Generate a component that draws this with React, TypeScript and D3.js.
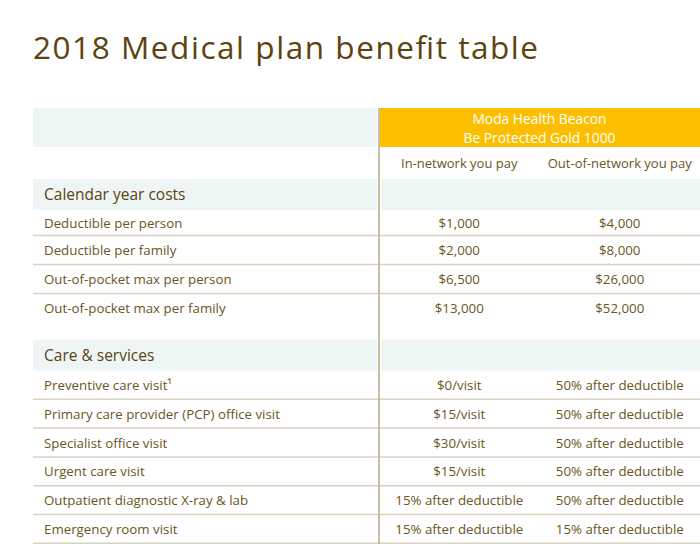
import React from "react";
import * as d3 from "d3";

const title = "2018 Medical plan benefit table";
const planName = ["Moda Health Beacon", "Be Protected Gold 1000"];
const columnHeaders = ["In-network you pay", "Out-of-network you pay"];

const section1Title = "Calendar year costs";
const section1Labels = [
  "Deductible per person",
  "Deductible per family",
  "Out-of-pocket max per person",
  "Out-of-pocket max per family",
];
const section1In = ["$1,000", "$2,000", "$6,500", "$13,000"];
const section1Out = ["$4,000", "$8,000", "$26,000", "$52,000"];

const section2Title = "Care & services";
const section2Labels = [
  "Preventive care visit\u00B9",
  "Primary care provider (PCP) office visit",
  "Specialist office visit",
  "Urgent care visit",
  "Outpatient diagnostic X-ray & lab",
  "Emergency room visit",
];
const section2In = ["$0/visit", "$15/visit", "$30/visit", "$15/visit", "15% after deductible", "15% after deductible"];
const section2Out = [
  "50% after deductible",
  "50% after deductible",
  "50% after deductible",
  "50% after deductible",
  "50% after deductible",
  "15% after deductible",
];

const W = 700;
const H = 544;
const FONT = "'Open Sans', Lato, sans-serif";
const BROWN = "#5c430f";
const TEXT = "#6b5524";
const BAND = "#edf6f5";
const YELLOW = "#fcbf00";
const LINE = "#dbd1bf";
const DIV = "#c9bda4";

const left = 33;
const divX = 379;
const right = 700;

export default function App() {
  const colX = d3.scaleBand<string>().domain(columnHeaders).range([divX, right]);
  const colCenter = (c: string) => (colX(c) ?? 0) + colX.bandwidth() / 2;
  const planCenter = (divX + right) / 2;

  const headTop = 108;
  const headH = 39;
  const subH = 32;
  const bandH = 31;
  const rowH = 28.8;

  const sec1BandTop = headTop + headH + subH;
  const sec1RowTop = sec1BandTop + bandH;
  const sec1Heights = [25.5, 29, 29, 46];
  const sec1Rows = section1Labels.map((l, i) => {
    const top = sec1RowTop + d3.sum(sec1Heights.slice(0, i));
    return { label: l, inV: section1In[i], outV: section1Out[i], top, h: sec1Heights[i], line: i < 3 };
  });
  const sec2BandTop = sec1RowTop + d3.sum(sec1Heights);
  const sec2RowTop = sec2BandTop + bandH;
  const y2 = d3.scaleLinear().domain([0, section2Labels.length]).range([sec2RowTop, sec2RowTop + rowH * section2Labels.length]);
  const sec2Rows = section2Labels.map((l, i) => ({
    label: l,
    inV: section2In[i],
    outV: section2Out[i],
    top: y2(i),
    h: rowH,
    line: true,
  }));

  const band = (top: number, key: string) => (
    <g key={key}>
      <rect x={left} y={top} width={divX - 2 - left} height={bandH} fill={BAND} />
      <rect x={divX + 2} y={top} width={right - divX - 2} height={bandH} fill={BAND} />
    </g>
  );

  const fs = 13.3;
  const rowEls = (rows: typeof sec1Rows, k: string) =>
    rows.map((r, i) => {
      const cy = r.top + (r.h > 40 ? 14.5 : r.h / 2);
      return (
        <g key={k + i}>
          <text x={44} y={cy} dominantBaseline="central" fontSize={fs} fill={TEXT}>
            {r.label}
          </text>
          <text x={colCenter(columnHeaders[0])} y={cy} dominantBaseline="central" textAnchor="middle" fontSize={fs} fill={TEXT}>
            {r.inV}
          </text>
          <text x={colCenter(columnHeaders[1])} y={cy} dominantBaseline="central" textAnchor="middle" fontSize={fs} fill={TEXT}>
            {r.outV}
          </text>
          {r.line && <line x1={left} x2={right} y1={r.top + r.h} y2={r.top + r.h} stroke={LINE} strokeWidth={1.5} />}
        </g>
      );
    });

  return (
    <svg width={W} height={H} style={{ position: "absolute", left: 0, top: 0, background: "#fff" }} fontFamily={FONT}>
      <rect width={W} height={H} fill="#fff" />
      <text x={left} y={59} fontSize={31.5} fill={BROWN} textLength={505} lengthAdjust="spacing">
        {title}
      </text>

      <rect x={left} y={headTop} width={divX - 2 - left} height={headH} fill={BAND} />
      <rect x={divX + 1} y={headTop} width={right - divX} height={headH} fill={YELLOW} />
      {planName.map((t, i) => (
        <text key={t} x={planCenter} y={headTop + 10.5 + i * 19} dominantBaseline="central" textAnchor="middle" fontSize={13.8} fill="#fff">
          {t}
        </text>
      ))}
      {columnHeaders.map((c) => (
        <text key={c} x={colCenter(c)} y={headTop + headH + 16} dominantBaseline="central" textAnchor="middle" fontSize={13} fill={TEXT}>
          {c}
        </text>
      ))}

      {band(sec1BandTop, "b1")}
      <text x={44} y={sec1BandTop + 15} dominantBaseline="central" fontSize={15.5} fontWeight={500} fill={BROWN}>
        {section1Title}
      </text>
      {rowEls(sec1Rows, "r1")}

      {band(sec2BandTop, "b2")}
      <text x={44} y={sec2BandTop + 15} dominantBaseline="central" fontSize={15.5} fontWeight={500} fill={BROWN}>
        {section2Title}
      </text>
      {rowEls(sec2Rows, "r2")}

      <rect x={divX - 1} y={headTop} width={2} height={H - headTop} fill={DIV} />
    </svg>
  );
}
